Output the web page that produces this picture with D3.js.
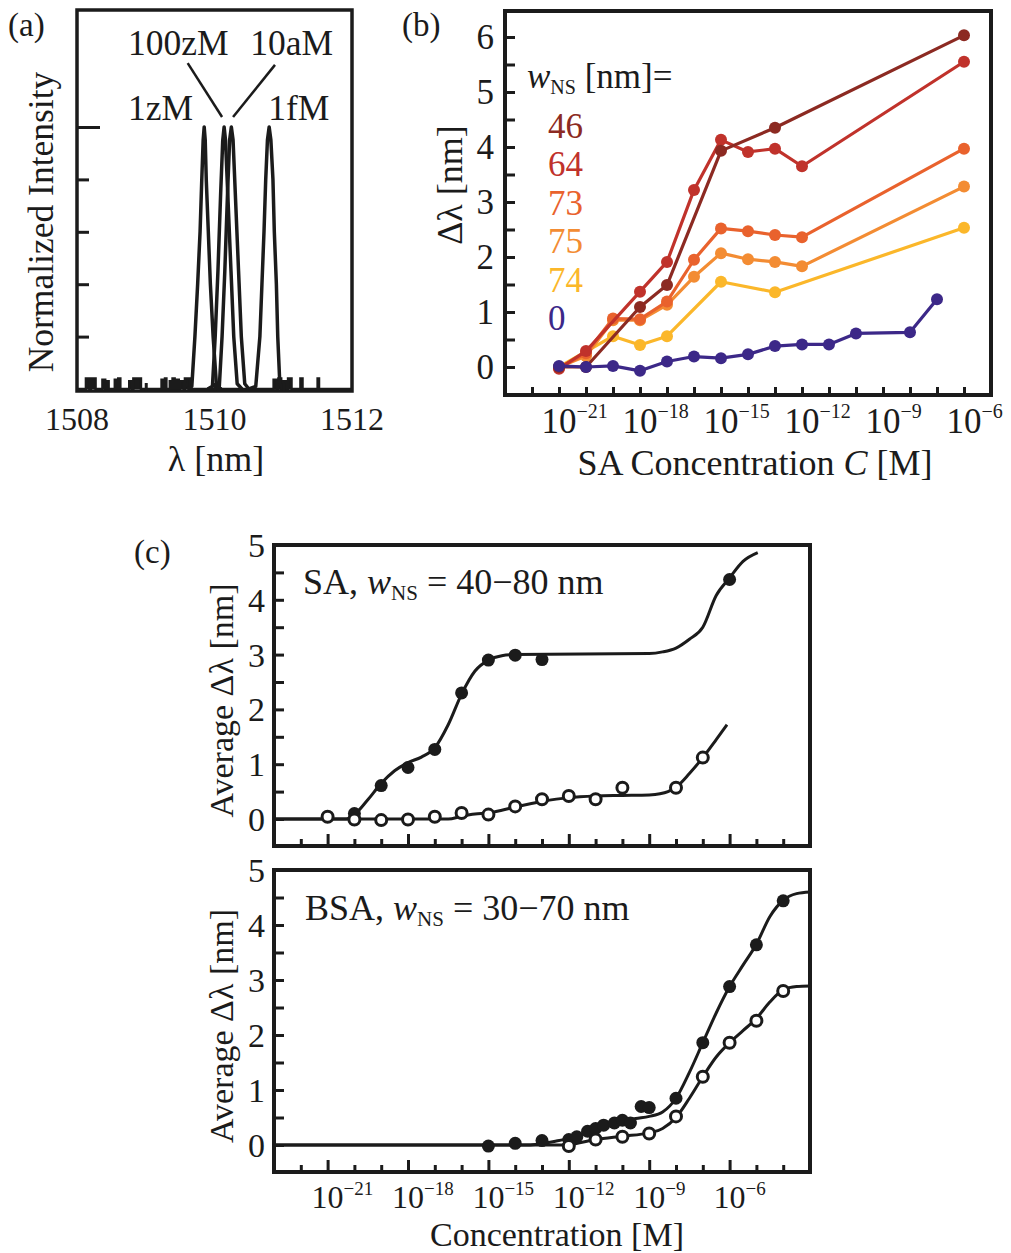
<!DOCTYPE html>
<html>
<head>
<meta charset="utf-8">
<script src="https://cdn.jsdelivr.net/npm/d3@7"></script>
<style>
  body { margin: 0; background: #fff; }
  svg text { font-family: "Liberation Serif", "Times New Roman", serif; fill: #1b1b1b; }
</style>
</head>
<body>
<svg id="fig" width="1011" height="1253"></svg>
<script>
// ---------- panel (a): resonance spectra, [lambda nm, normalized intensity]
const spec1zM = [[1509.6,0],[1509.67,0.01],[1509.715,0.2],[1509.755,0.4],[1509.79,0.6],[1509.815,0.8],[1509.835,0.95],[1509.85,1.0],[1509.865,0.95],[1509.88,0.8],[1509.91,0.6],[1509.94,0.4],[1509.98,0.2],[1510.03,0.01],[1510.1,0]];
const spec100zM = [[1509.9,0],[1509.97,0.01],[1510.01,0.2],[1510.05,0.45],[1510.09,0.75],[1510.12,0.95],[1510.14,1.0],[1510.16,0.95],[1510.2,0.7],[1510.24,0.45],[1510.28,0.2],[1510.33,0.02],[1510.4,0]];
const spec10aM = [[1510.0,0],[1510.07,0.01],[1510.11,0.2],[1510.15,0.45],[1510.19,0.75],[1510.22,0.95],[1510.245,1.0],[1510.27,0.95],[1510.31,0.7],[1510.35,0.45],[1510.39,0.2],[1510.44,0.02],[1510.5,0]];
const spec1fM = [[1510.5,0],[1510.6,0.01],[1510.66,0.2],[1510.69,0.4],[1510.72,0.6],[1510.745,0.8],[1510.77,0.95],[1510.795,1.0],[1510.82,0.95],[1510.85,0.8],[1510.87,0.6],[1510.9,0.4],[1510.92,0.2],[1510.95,0.02],[1511.0,0]];
// baseline noise blocks [start, end, height]
const noiseBlocks = [[1508.13,1508.18,0.04],[1508.2,1508.27,0.04],[1508.37,1508.41,0.035],[1508.43,1508.46,0.03],[1508.55,1508.58,0.035],[1508.6,1508.63,0.04],[1508.76,1508.8,0.03],[1508.82,1508.93,0.04],[1509.23,1509.26,0.035],[1509.28,1509.3,0.04],[1509.35,1509.37,0.03],[1509.39,1509.42,0.04],[1509.45,1509.48,0.035],[1509.5,1509.55,0.03],[1509.57,1509.64,0.04],[1510.86,1510.9,0.035],[1510.93,1510.97,0.04],[1511.0,1511.04,0.03],[1511.07,1511.12,0.04],[1511.25,1511.28,0.04],[1511.5,1511.52,0.04]];
const peakLabels = [['100zM',1508.74,1.275],['10aM',1510.52,1.275],['1zM',1508.74,1.025],['1fM',1510.78,1.025]];
const leaders = [[1509.61,1.244,1510.11,1.038],[1510.88,1.237,1510.27,1.038]];
const aTickLabels = [1508, 1510, 1512];

// ---------- panel (b): SA concentration exponent, shift [nm]
const wnsNames = ['46','64','73','75','74','0'];
const wnsColors = ['#8c2a22','#c0322b','#e9622d','#f38c33','#fbb72a','#3c2888'];
const s46 = [[-21,0],[-20,0.0],[-18,1.09],[-17,1.49],[-15,3.93],[-13,4.35],[-6,6.03]];
const s64 = [[-21,-0.03],[-20,0.29],[-18,1.37],[-17,1.91],[-16,3.22],[-15,4.13],[-14,3.91],[-13,3.97],[-12,3.65],[-6,5.55]];
const s73 = [[-21,-0.02],[-20,0.25],[-19,0.88],[-18,0.87],[-17,1.19],[-16,1.95],[-15,2.52],[-14,2.47],[-13,2.4],[-12,2.36],[-6,3.97]];
const s75 = [[-21,0],[-20,0.2],[-19,0.85],[-18,0.85],[-17,1.13],[-16,1.64],[-15,2.07],[-14,1.96],[-13,1.91],[-12,1.83],[-6,3.28]];
const s74 = [[-21,0],[-19,0.56],[-18,0.4],[-17,0.56],[-15,1.55],[-13,1.36],[-6,2.53]];
const s0 = [[-21,0.02],[-20,0.0],[-19,0.02],[-18,-0.07],[-17,0.1],[-16,0.19],[-15,0.16],[-14,0.23],[-13,0.38],[-12,0.41],[-11,0.41],[-10,0.61],[-8,0.63],[-7,1.23]];
const bSeries = [s46, s64, s73, s75, s74, s0];
const bDrawOrder = [4, 3, 2, 1, 0, 5];
const bYTicks = [0,1,2,3,4,5,6];

// ---------- panel (c): average shift, exponent of concentration
const saFilled = [[-20,0.1],[-19,0.61],[-18,0.94],[-17,1.27],[-16,2.3],[-15,2.9],[-14,2.99],[-13,2.91],[-6,4.37]];
const saOpen = [[-21,0.04],[-20,-0.01],[-19,-0.02],[-18,-0.01],[-17,0.04],[-16,0.11],[-15,0.08],[-14,0.23],[-13,0.36],[-12,0.42],[-11,0.36],[-10,0.57],[-8,0.57],[-7,1.12]];
const saFilledFit = [[-23,0],[-20.3,0],[-20,0.08],[-19.5,0.35],[-19,0.65],[-18.5,0.88],[-18,1.03],[-17.5,1.13],[-17,1.3],[-16.5,1.72],[-16,2.28],[-15.5,2.7],[-15,2.9],[-14.5,2.98],[-14,3.0],[-9,3.02],[-8.5,3.05],[-8,3.12],[-7.5,3.28],[-7,3.5],[-6.5,4.08],[-6,4.4],[-5.5,4.7],[-4.95,4.86]];
const saOpenFit = [[-23,0],[-16.5,0],[-16,0.05],[-15.5,0.09],[-15,0.11],[-14.5,0.16],[-14,0.22],[-13,0.32],[-12,0.39],[-11,0.42],[-10,0.43],[-9,0.44],[-8.6,0.46],[-8.3,0.5],[-8,0.58],[-7.5,0.83],[-7,1.12],[-6.5,1.45],[-6.1,1.72]];
const bsaFilled = [[-15,-0.02],[-14,0.03],[-13,0.08],[-12,0.1],[-11.7,0.15],[-11.3,0.25],[-11,0.3],[-10.7,0.36],[-10.3,0.4],[-10,0.45],[-9.7,0.4],[-9.3,0.7],[-9,0.68],[-8,0.85],[-7,1.86],[-6,2.88],[-5,3.64],[-4,4.44]];
const bsaOpen = [[-12,-0.02],[-11,0.1],[-10,0.15],[-9,0.21],[-8,0.52],[-7,1.24],[-6,1.86],[-5,2.26],[-4,2.8]];
const bsaFilledFit = [[-23,0],[-13.5,0],[-13,0.03],[-12.5,0.07],[-12,0.12],[-11.5,0.2],[-11,0.28],[-10.5,0.36],[-10,0.43],[-9.5,0.48],[-9,0.52],[-8.5,0.6],[-8,0.85],[-7.5,1.32],[-7,1.86],[-6.5,2.4],[-6,2.88],[-5.5,3.27],[-5,3.65],[-4.5,4.15],[-4,4.45],[-3.5,4.57],[-3,4.6]];
const bsaOpenFit = [[-23,0],[-12.5,0],[-12,0.01],[-11,0.1],[-10,0.16],[-9,0.22],[-8.5,0.3],[-8,0.5],[-7.5,0.85],[-7,1.24],[-6.5,1.6],[-6,1.86],[-5.5,2.08],[-5,2.3],[-4.5,2.6],[-4,2.82],[-3.5,2.88],[-3,2.89]];
const cYTicks = [0,1,2,3,4,5];
const decadeLabels = [-21,-18,-15,-12,-9,-6];

const ink = '#1b1b1b';
const svg = d3.select('#fig');

function frame(g, x0, y0, x1, y1, w) {
  g.append('rect')
    .attr('x', x0).attr('y', y0)
    .attr('width', x1 - x0).attr('height', y1 - y0)
    .attr('fill', 'none').attr('stroke', ink).attr('stroke-width', w);
}

function tickMarks(g, axis, tx, ty, w) {
  const a = g.append('g').attr('transform', `translate(${tx},${ty})`).call(axis);
  a.select('.domain').remove();
  a.selectAll('text').remove();
  a.selectAll('line').attr('stroke', ink).attr('stroke-width', w);
}

function powLabel(g, x, y, exp, size, sup) {
  const t = g.append('text').attr('x', x - size * 0.5).attr('y', y).style('font-size', size + 'px');
  t.append('tspan').text('10');
  t.append('tspan').attr('dy', -size * 0.42).style('font-size', sup + 'px').text('\u2212' + Math.abs(exp));
}

function text(g, x, y, str, size, anchor, rot) {
  const t = g.append('text').attr('x', x).attr('y', y)
    .attr('text-anchor', anchor || 'start').style('font-size', size + 'px').text(str);
  if (rot) t.attr('transform', `rotate(${rot},${x},${y})`);
  return t;
}

// ================= panel (a)
(function () {
  const g = svg.append('g');
  const x = d3.scaleLinear().domain([1508, 1512]).range([77, 352]);
  const y = d3.scaleLinear().domain([0, 1]).range([389, 127]);
  const line = d3.line().x(d => x(d[0])).y(d => y(d[1]));

  const base = [[1508, 0]];
  noiseBlocks.forEach(([s, e, h]) => { base.push([s, 0], [s, h], [e, h], [e, 0]); });
  base.push([1512, 0]);
  g.append('path').attr('d', line(base)).attr('fill', ink).attr('stroke', ink).attr('stroke-width', 2.5);

  [spec1zM, spec100zM, spec10aM, spec1fM].forEach(s => {
    g.append('path').attr('d', line(s)).attr('fill', 'none')
      .attr('stroke', ink).attr('stroke-width', 3.5).attr('stroke-linejoin', 'round');
  });

  frame(g, 77, 10, 352, 391, 3.5);
  tickMarks(g, d3.axisRight(y).tickValues([0.2, 0.4, 0.6, 0.8]).tickSize(12), 77, 0, 3);
  tickMarks(g, d3.axisRight(y).tickValues([1]).tickSize(23), 77, 0, 3);
  tickMarks(g, d3.axisTop(x).tickValues([1509, 1510, 1511]).tickSize(8), 0, 391, 3);

  aTickLabels.forEach(v => text(g, x(v), 430, String(v), 32, 'middle'));
  leaders.forEach(([a1, b1, a2, b2]) => {
    g.append('line').attr('x1', x(a1)).attr('y1', y(b1)).attr('x2', x(a2)).attr('y2', y(b2))
      .attr('stroke', ink).attr('stroke-width', 2.5);
  });
  peakLabels.forEach(([t, lx, ly]) => text(g, x(lx), y(ly), t, 35.5));

  text(g, 53, 222, 'Normalized Intensity', 35.5, 'middle', -90);
  text(g, 216, 471, '\u03bb [nm]', 36, 'middle');
  text(g, 8, 36, '(a)', 33);
})();

// ================= panel (b)
(function () {
  const g = svg.append('g');
  const x = d3.scaleLog().domain([1e-23, 1e-5]).range([505, 991]);
  const y = d3.scaleLinear().domain([0, 6]).range([367, 37]);
  const line = d3.line().x(d => x(Math.pow(10, d[0]))).y(d => y(d[1]));

  bDrawOrder.forEach(i => {
    const c = wnsColors[i];
    g.append('path').attr('d', line(bSeries[i])).attr('fill', 'none')
      .attr('stroke', c).attr('stroke-width', 3.2).attr('stroke-linejoin', 'round');
    g.selectAll(null).data(bSeries[i]).join('circle')
      .attr('cx', d => x(Math.pow(10, d[0]))).attr('cy', d => y(d[1]))
      .attr('r', 6).attr('fill', c);
  });

  frame(g, 505, 11, 991, 395, 4);
  tickMarks(g, d3.axisRight(y).tickValues(d3.range(0, 6.01, 0.5)).tickSize(10), 505, 0, 3);
  const decs = d3.range(-22, -5).map(e => Math.pow(10, e));
  tickMarks(g, d3.axisTop(x).tickValues(decs).tickSize(8), 0, 395, 3);

  bYTicks.forEach(v => text(g, 494, y(v) + 12, String(v), 35, 'end'));
  decadeLabels.forEach(e => powLabel(g, x(Math.pow(10, e)), 433, e, 35, 20));

  text(g, 462, 185, '\u0394\u03bb [nm]', 36, 'middle', -90);
  const t = g.append('text').attr('x', 755).attr('y', 475).attr('text-anchor', 'middle').style('font-size', '36px');
  t.append('tspan').text('SA Concentration ');
  t.append('tspan').style('font-style', 'italic').text('C');
  t.append('tspan').text(' [M]');

  const lg = g.append('text').attr('x', 527).attr('y', 88).style('font-size', '35px');
  lg.append('tspan').style('font-style', 'italic').text('w');
  lg.append('tspan').attr('dy', 6).style('font-size', '20px').text('NS');
  lg.append('tspan').attr('dy', -6).text(' [nm]=');
  const legY = [138, 176, 215, 253, 292, 330];
  wnsNames.forEach((n, i) => text(g, 548, legY[i], n, 35).style('fill', wnsColors[i]));

  text(g, 402, 36, '(b)', 33);
})();

// ================= panel (c)
function panelC(top, bottom, filled, open, filledFit, openFit, label, labelX, labelY, showX) {
  const g = svg.append('g');
  const x = d3.scaleLog().domain([1e-23, 1e-3]).range([274, 810]);
  const y = d3.scaleLinear().domain([0, 5]).range([bottom - 27, top]);
  const px = d => x(Math.pow(10, d[0]));
  const line = d3.line().x(px).y(d => y(d[1])).curve(d3.curveMonotoneX);

  [filledFit, openFit].forEach(f => {
    g.append('path').attr('d', line(f)).attr('fill', 'none').attr('stroke', ink).attr('stroke-width', 3);
  });
  g.selectAll(null).data(filled).join('circle')
    .attr('cx', px).attr('cy', d => y(d[1])).attr('r', 6.5).attr('fill', ink);
  g.selectAll(null).data(open).join('circle')
    .attr('cx', px).attr('cy', d => y(d[1])).attr('r', 5.5)
    .attr('fill', '#fff').attr('stroke', ink).attr('stroke-width', 3);

  frame(g, 274, top, 810, bottom, 4);
  tickMarks(g, d3.axisRight(y).tickValues(d3.range(0, 4.51, 0.5)).tickSize(10), 274, 0, 3);
  const all = d3.range(-22, -3);
  tickMarks(g, d3.axisTop(x).tickValues(all.filter(e => (e + 21) % 3 !== 0).map(e => Math.pow(10, e))).tickSize(7), 0, bottom, 3);
  tickMarks(g, d3.axisTop(x).tickValues(all.filter(e => (e + 21) % 3 === 0).map(e => Math.pow(10, e))).tickSize(12), 0, bottom, 3);

  cYTicks.forEach(v => text(g, 265, y(v) + 12, String(v), 34, 'end'));
  text(g, 233, (top + bottom) / 2 + 5, 'Average \u0394\u03bb [nm]', 34, 'middle', -90);

  const t = g.append('text').attr('x', labelX).attr('y', labelY).style('font-size', '36px');
  t.append('tspan').text(label[0]);
  t.append('tspan').style('font-style', 'italic').text('w');
  t.append('tspan').attr('dy', 6).style('font-size', '21px').text('NS');
  t.append('tspan').attr('dy', -6).text(label[1]);

  if (showX) {
    decadeLabels.forEach(e => powLabel(g, x(Math.pow(10, e)), 1208, e, 32, 19));
    text(g, 557, 1246, 'Concentration [M]', 34, 'middle');
  }
}

panelC(545, 846, saFilled, saOpen, saFilledFit, saOpenFit, ['SA, ', ' = 40\u221280 nm'], 303, 594, false);
panelC(870, 1172, bsaFilled, bsaOpen, bsaFilledFit, bsaOpenFit, ['BSA, ', ' = 30\u221270 nm'], 305, 920, true);
text(svg, 134, 563, '(c)', 33);
</script>
</body>
</html>
